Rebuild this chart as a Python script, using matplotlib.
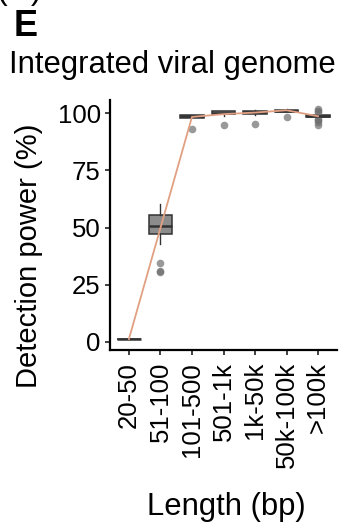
import matplotlib
matplotlib.use('Agg')
import matplotlib.pyplot as plt

plt.rcParams['font.family'] = ['Liberation Sans', 'DejaVu Sans']

# data
categories = ['20-50', '51-100', '101-500', '501-1k', '1k-50k', '50k-100k', '>100k']
medians = [1.2, 50.7, 98.6, 100.2, 100.4, 101.2, 98.8]
q1 = [1.2, 47.1, 98.1, 99.5, 99.7, 100.7, 98.5]
q3 = [1.2, 55.5, 99.2, 100.9, 101.2, 101.6, 99.1]
whislo = [1.2, 42.8, 97.9, 98.9, 99.1, 100.6, 98.2]
whishi = [1.2, 60.3, 99.3, 101.0, 101.3, 101.7, 99.3]
fliers = [[], [34.4, 31.0, 30.4], [93.3], [94.7], [95.2], [98.4],
          [101.8, 101.2, 100.4, 97.6, 97.0, 96.3, 95.0]]
means = [1.2, 49.8, 98.4, 99.6, 100.3, 101.3, 98.7]

fig = plt.figure(figsize=(3.47, 5.26), dpi=100)
ax = fig.add_axes([110/347, 1-350/526, 227/347, 250/526])

stats = []
for i in range(len(categories)):
    stats.append(dict(med=medians[i], q1=q1[i], q3=q3[i], whislo=whislo[i],
                      whishi=whishi[i], fliers=fliers[i]))
pos = list(range(len(categories)))
ax.bxp(stats, positions=pos, widths=0.75, patch_artist=True, showcaps=False,
       boxprops=dict(facecolor='#8c8c8c', edgecolor='#333333', linewidth=1.1),
       medianprops=dict(color='#333333', linewidth=1.8),
       whiskerprops=dict(color='#333333', linewidth=1.0),
       flierprops=dict(marker='o', markersize=5.5, markerfacecolor='#6e6e6e',
                       markeredgecolor='none', alpha=0.7))
ax.plot(pos, means, color='#E2A083', linewidth=1.3, zorder=5)

ax.set_xlim(-0.6, 6.6)
ax.set_ylim(-3.6, 105.8)
ax.set_yticks([0, 25, 50, 75, 100])
ax.set_xticks(pos)
ax.set_xticklabels(categories, rotation=90)
ax.tick_params(axis='both', direction='out', length=3.6, width=1.3,
               labelsize=18.5, color='#333333')
ax.tick_params(axis='y', pad=3)
ax.tick_params(axis='x', pad=5)
for s in ['top', 'right']:
    ax.spines[s].set_visible(False)
for s in ['left', 'bottom']:
    ax.spines[s].set_linewidth(1.6)

fig.text(172/347, 1-73/526, 'Integrated viral genome', fontsize=22.3,
         ha='center', va='baseline')
fig.text(14/347, 1-36/526, 'E', fontsize=26, fontweight='bold', va='baseline')
fig.text(-3/347, 1+1/526, '(D)', fontsize=23, va='baseline')
fig.text(29/347, 1-256/526, 'Detection power (%)', fontsize=21,
         rotation=90, ha='center', va='center')
fig.text(226/347, 1-515/526, 'Length (bp)', fontsize=22.3, ha='center', va='baseline')

fig.savefig('out.png', dpi=100)
